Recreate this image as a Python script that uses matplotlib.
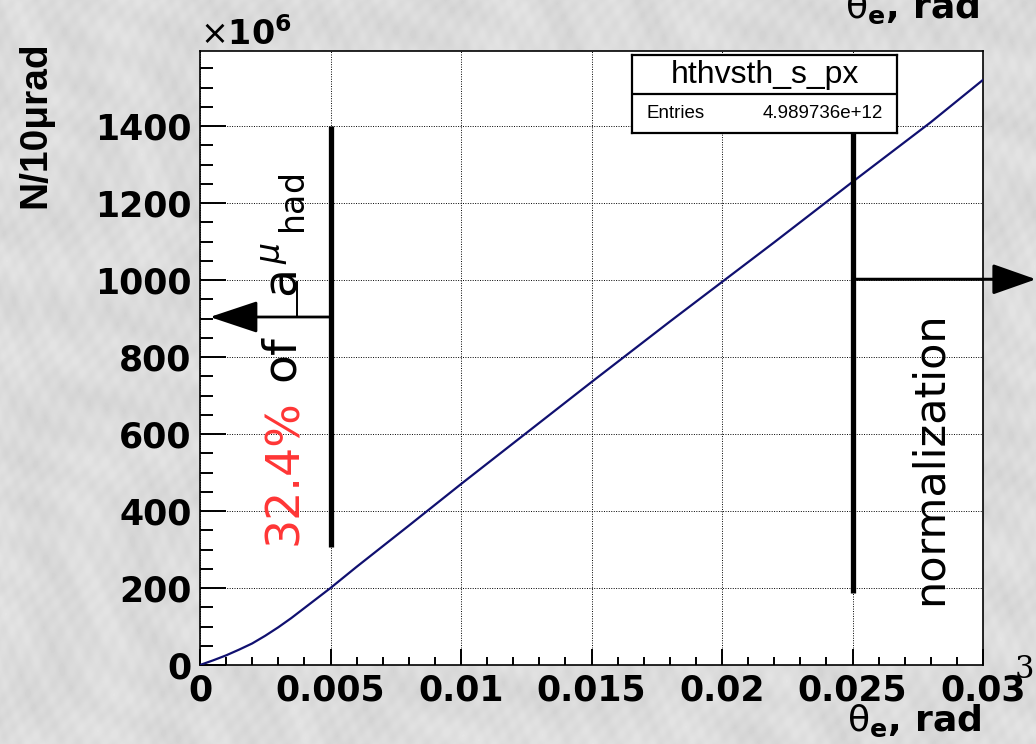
import numpy as np
import matplotlib
matplotlib.use("Agg")
import matplotlib.pyplot as plt
from matplotlib.ticker import FixedLocator, MultipleLocator

# ---- data -------------------------------------------------------------
theta = [0.0, 0.0005, 0.001, 0.0015, 0.002, 0.0025, 0.003, 0.0035, 0.004,
         0.005, 0.006, 0.008, 0.010, 0.012, 0.015, 0.018, 0.020, 0.022,
         0.025, 0.028, 0.030]
counts = [0, 12, 25, 40, 56, 76, 98, 122, 148,
          200, 255, 362, 470, 576, 735, 892, 995, 1098,
          1255, 1410, 1520]   # x 10^6 per 10 urad

x_ticks = [0.0, 0.005, 0.01, 0.015, 0.02, 0.025, 0.03]
x_tick_labels = ["0", "0.005", "0.01", "0.015", "0.02", "0.025", "0.03"]
y_ticks = [0, 200, 400, 600, 800, 1000, 1200, 1400]
y_tick_labels = ["0", "200", "400", "600", "800", "1000", "1200", "1400"]

hist_name = "hthvsth_s_px"
entries_label = "Entries"
entries_value = "4.989736e+12"

left_cut = 0.005          # boundary of the region below 5 mrad
left_bar = [306, 1400]
left_arrow_y = 904
left_arrow_tip = 0.00038
left_share = "32.4%"

norm_cut = 0.025          # normalization region starts here
norm_bar = [187, 1382]
norm_arrow_y = 1002

W, H = 1036, 744
plt.rcParams["mathtext.fontset"] = "dejavusans"

fig = plt.figure(figsize=(W / 100, H / 100), dpi=100)

# ---- marble-like grey backdrop ---------------------------------------
bg = fig.add_axes([0, 0, 1, 1], zorder=-10)
yy, xx = np.mgrid[0:H, 0:W].astype(float)
u = 0.75 * xx + 0.66 * yy
v = 0.66 * xx - 0.75 * yy
tex = (0.86
       + 0.012 * np.sin(u / 23.0 + 4.0 * np.sin(v / 61.0))
       + 0.010 * np.sin(v / 7.0 + 2.5 * np.sin(u / 37.0))
       + 0.008 * np.sin(xx / 3.1 + yy / 4.3 + 2.0 * np.sin(yy / 19.0))
       + 0.006 * np.sin(xx / 2.3 - yy / 5.7 + 1.5 * np.sin(xx / 27.0)))
bg.imshow(np.clip(tex, 0, 1), cmap="gray", vmin=0, vmax=1,
          aspect="auto", interpolation="bilinear")
bg.axis("off")

# ---- main frame --------------------------------------------------------
ax = fig.add_axes([200 / W, (H - 665) / H, 783 / W, 614 / H])
ax.set_facecolor("white")
ax.plot(theta, counts, color="#101070", lw=1.6, zorder=3)
ax.set_xlim(0, 0.03)
ax.set_ylim(0, 1595)

ax.xaxis.set_major_locator(FixedLocator(x_ticks))
ax.set_xticklabels(x_tick_labels)
ax.xaxis.set_minor_locator(MultipleLocator(0.001))
ax.yaxis.set_major_locator(FixedLocator(y_ticks))
ax.set_yticklabels(y_tick_labels)
ax.yaxis.set_minor_locator(MultipleLocator(50))

ax.tick_params(axis="both", which="both", direction="in", top=False,
               right=False, width=1.4, color="black")
ax.tick_params(axis="y", which="major", length=19, pad=6)
ax.tick_params(axis="y", which="minor", length=9)
ax.tick_params(axis="x", which="major", length=11.5, pad=6)
ax.tick_params(axis="x", which="minor", length=6)
for lab in ax.get_xticklabels() + ax.get_yticklabels():
    lab.set_fontfamily("DejaVu Sans")
    lab.set_fontweight("bold")
    lab.set_fontsize(25)

ax.grid(True, which="major", color="black", lw=0.7, ls=(0, (1, 1.5)))
for sp in ax.spines.values():
    sp.set_linewidth(1.2)
    sp.set_color("black")

# ---- cut markers --------------------------------------------------------
ax.plot([left_cut, left_cut], left_bar, color="black", lw=3.8,
        solid_capstyle="butt", zorder=4)
ax.plot([norm_cut, norm_cut], norm_bar, color="black", lw=3.8,
        solid_capstyle="butt", zorder=4)

ax.annotate("", xy=(left_arrow_tip, left_arrow_y), xytext=(left_cut, left_arrow_y),
            arrowprops=dict(arrowstyle="-|>,head_length=3,head_width=1",
                            mutation_scale=10, lw=2, color="black",
                            shrinkA=0, shrinkB=0), zorder=5)
ax.annotate("", xy=(1.0, norm_arrow_y), xycoords=("figure fraction", "data"),
            xytext=(norm_cut, norm_arrow_y), textcoords="data",
            arrowprops=dict(arrowstyle="-|>,head_length=2.7,head_width=0.95",
                            mutation_scale=10, lw=2.2, color="black",
                            shrinkA=0, shrinkB=0),
            annotation_clip=False, zorder=5)

text_x = 0.00372
ax.plot([text_x, text_x], [left_arrow_y, 995], color="black", lw=1.4, zorder=5)

t1 = ax.text(text_x, 312, left_share, rotation=90, rotation_mode="anchor",
             ha="left", va="baseline", color="#ff3535", fontsize=33,
             family="DejaVu Sans", zorder=6)
fig.canvas.draw()
bb = t1.get_window_extent()
y_end = ax.transData.inverted().transform((bb.x0, bb.y1))[1]
ax.text(text_x, y_end,
        r" of $\;\;\mathregular{a}^{\,\mu}{}_{\,\mathregular{had}}$",
        rotation=90, rotation_mode="anchor", ha="left", va="baseline",
        color="black", fontsize=34, family="DejaVu Sans", zorder=6)

ax.text(0.02843, 156, "normalization", rotation=90, rotation_mode="anchor",
        ha="left", va="baseline", color="black", fontsize=31,
        family="DejaVu Sans", zorder=6)

# ---- statistics box ----------------------------------------------------
box = fig.add_axes([632 / W, (H - 133) / H, 265 / W, 78 / H], zorder=8)
box.set_xlim(0, 1)
box.set_ylim(0, 1)
box.set_xticks([])
box.set_yticks([])
box.set_facecolor("white")
for sp in box.spines.values():
    sp.set_linewidth(1.6)
box.axhline(0.5, color="black", lw=1.6)
box.text(0.5, 0.75, hist_name, ha="center", va="center", fontsize=23,
         family="Liberation Sans")
box.text(0.053, 0.25, entries_label, ha="left", va="center", fontsize=13.5,
         family="Liberation Sans")
box.text(0.947, 0.25, entries_value, ha="right", va="center", fontsize=13.5,
         family="Liberation Sans")

# ---- axis titles -------------------------------------------------------
fig.text(35 / W, 1 - 125 / H, "N/10\u03bcrad", rotation=90, ha="center",
         va="center", fontsize=28, fontweight="bold",
         family=["Liberation Sans Narrow", "Liberation Sans", "DejaVu Sans"])
fig.text(200 / W, 1 - 45 / H, r"$\times\mathbf{10^{6}}$", ha="left",
         va="baseline", fontsize=24)
xlabel = r"$\mathrm{\theta}_{\mathbf{e}}\mathbf{,\,rad}$"
fig.text(981 / W, 1 - 731 / H, xlabel, ha="right", va="baseline", fontsize=26)
fig.text(979 / W, 1 - 18 / H, xlabel, ha="right", va="baseline", fontsize=26)
fig.text(1024 / W, 1 - 669 / H, "3", ha="center", va="center", fontsize=22,
         family="DejaVu Serif", fontweight="light")

fig.savefig("out.png", dpi=100)
